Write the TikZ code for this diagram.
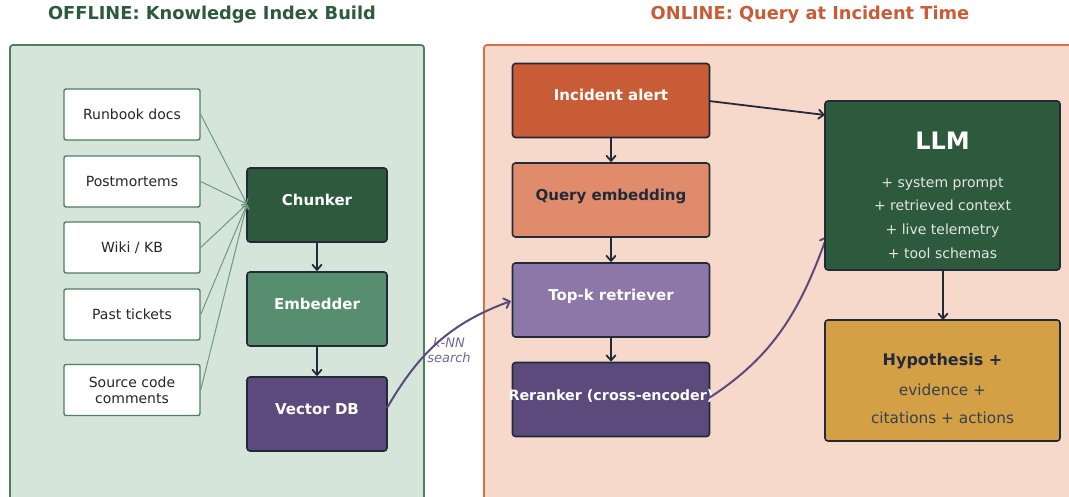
\documentclass[tikz,border=0pt]{standalone}
\usepackage{fontspec}
\setmainfont{DejaVu Sans}
\usetikzlibrary{arrows.meta}
\definecolor{dkgreen}{HTML}{2D5A3D}
\definecolor{midgreen}{HTML}{568E6F}
\definecolor{panelgreen}{HTML}{D5E5DA}
\definecolor{panelgreenline}{HTML}{4F7F5F}
\definecolor{panelorange}{HTML}{F6D9CB}
\definecolor{panelorangeline}{HTML}{D96E45}
\definecolor{rust}{HTML}{C85C37}
\definecolor{salmon}{HTML}{E08B6C}
\definecolor{lavender}{HTML}{8C77A8}
\definecolor{plum}{HTML}{5C4A7C}
\definecolor{gold}{HTML}{D4A046}
\definecolor{ink}{HTML}{222A3A}
\definecolor{srcline}{HTML}{6F9A7E}
\tikzset{
  x=1pt,y=-1pt,
  panel/.style={rounded corners=3pt,line width=1.8pt},
  srcbox/.style={draw=panelgreenline,fill=white,line width=1.4pt,rounded corners=2pt,
    minimum width=136pt,minimum height=51pt,inner sep=0pt,align=center,
    font=\fontsize{14}{16}\selectfont,text=black!85},
  procbox/.style={draw=ink,line width=1.6pt,rounded corners=3pt,minimum width=140pt,
    minimum height=74pt,inner sep=0pt,text=white,text height=11pt,text depth=10pt,
    font=\fontsize{15}{17}\bfseries\selectfont},
  qbox/.style={procbox,minimum width=197pt},
  bigbox/.style={draw=ink,line width=1.6pt,rounded corners=3pt,minimum width=235pt},
  flow/.style={-{Straight Barb[length=5pt,width=9pt,line cap=round]},draw=ink,line width=1.8pt},
  feed/.style={-{Straight Barb[length=4pt,width=7pt]},draw=srcline,line width=1pt},
  curvy/.style={-{Straight Barb[length=5pt,width=10pt,line cap=round]},draw=plum,line width=2pt},
}
\begin{document}
\begin{tikzpicture}
\useasboundingbox (0,0) rectangle (1069,497);
% panels
\draw[panel,draw=panelgreenline,fill=panelgreen] (10,45) rectangle (424,520);
\draw[panel,draw=panelorangeline,fill=panelorange] (484,45) rectangle (1090,520);
\node[text=dkgreen,font=\fontsize{17.8}{20}\bfseries\selectfont] (t1) at (212,15) {OFFLINE: Knowledge Index Build};
\node[text=rust,font=\fontsize{17.8}{20}\bfseries\selectfont] (t2) at (810,15) {ONLINE: Query at Incident Time};
% sources
\node[srcbox] (s1) at (132,114.5) {Runbook docs};
\node[srcbox] (s2) at (132,181.5) {Postmortems};
\node[srcbox] (s3) at (132,247.5) {Wiki / KB};
\node[srcbox] (s4) at (132,314.5) {Past tickets};
\node[srcbox] (s5) at (132,390) {Source code\\comments};
% offline pipeline
\node[procbox,fill=dkgreen] (chunk) at (317,205) {Chunker};
\node[procbox,fill=midgreen] (emb) at (317,309) {Embedder};
\node[procbox,fill=plum] (vdb) at (317,414) {Vector DB};
\coordinate (cin) at (247,204);
\foreach \s in {s1,s2,s3,s4,s5} \draw[feed] (\s.east) -- (cin);
\draw[flow] (chunk) -- (emb);
\draw[flow] (emb) -- (vdb);
% online pipeline
\node[qbox,fill=rust] (alert) at (611,100.5) {Incident alert};
\node[qbox,fill=salmon,text=ink] (qemb) at (611,200) {Query embedding};
\node[qbox,fill=lavender] (topk) at (611,300) {Top-k retriever};
\node[qbox,fill=plum] (rerank) at (611,399.5) {};
\node[text=white,font=\fontsize{14.3}{17}\bfseries\selectfont,inner sep=0pt] (rerankt) at (611,396) {Reranker (cross-encoder)};
% curves
\coordinate (vout) at (387,408);
\coordinate (tin) at (511,301);
\node[text=plum!85,font=\fontsize{13}{15}\itshape\selectfont,align=center] (knn) at (449,350) {k-NN\\search};
\draw[curvy] (vout) to[out=60,in=200] (tin);
\coordinate (rout) at (709,398);
\coordinate (lin) at (827,236);
\draw[curvy] (rout) to[out=33,in=250] (lin);
% LLM
\node[bigbox,fill=dkgreen,minimum height=169pt] (llm) at (942.5,185.5) {};
\node[text=white,font=\fontsize{24}{26}\bfseries\selectfont] (llmt) at (942.5,141) {LLM};
\node[text=white!90!black,font=\fontsize{14}{15}\selectfont,align=center] (llml) at (942.5,218) {+ system prompt\\[8.7pt]+ retrieved context\\[8.7pt]+ live telemetry\\[8.7pt]+ tool schemas};
\node[bigbox,fill=gold,minimum height=121pt] (hyp) at (942.5,380.5) {};
\node[text=ink,font=\fontsize{16}{18}\bfseries\selectfont] (hypt) at (942.5,361) {Hypothesis +};
\node[text=ink!90,font=\fontsize{15.3}{17}\selectfont,align=center] (hypl) at (942.5,404) {evidence +\\[11pt]citations + actions};
\draw[flow] (alert) -- (qemb);
\draw[flow] (qemb) -- (topk);
\draw[flow] (topk) -- (rerank);
\coordinate (aout) at (709,101);
\coordinate (llmin) at (825,115);
\draw[flow] (aout) -- (llmin);
\coordinate (lout) at (943,270);
\coordinate (hin) at (943,320);
\draw[flow] (lout) -- (hin);
\end{tikzpicture}
\end{document}
